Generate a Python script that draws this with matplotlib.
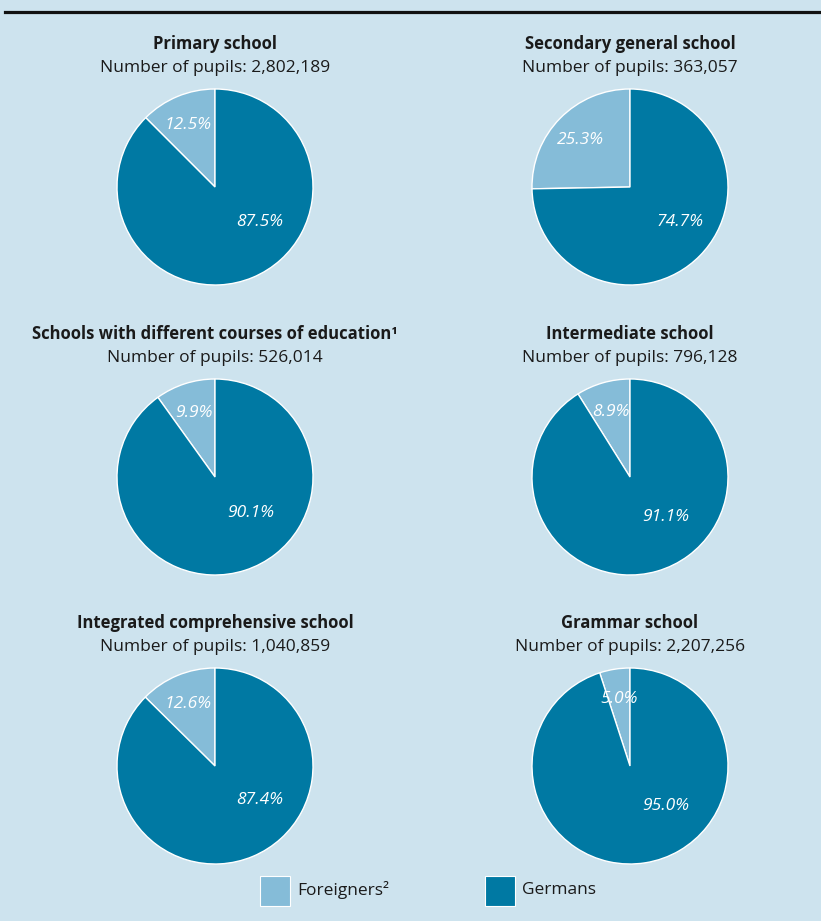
import numpy as np
import matplotlib.pyplot as plt
from matplotlib.lines import Line2D
from matplotlib.patches import Rectangle

W, H = 821, 921

titles = ["Primary school", "Secondary general school",
          "Schools with different courses of education\u00b9", "Intermediate school",
          "Integrated comprehensive school", "Grammar school"]
pupils = ["2,802,189", "363,057", "526,014", "796,128", "1,040,859", "2,207,256"]
foreigners = [12.5, 25.3, 9.9, 8.9, 12.6, 5.0]
germans = [87.5, 74.7, 90.1, 91.1, 87.4, 95.0]
legend_labels = ["Foreigners\u00b2", "Germans"]

BG = "#cde3ee"
LIGHT = "#85bcd8"
DARK = "#0079a3"

# pixel layout
centers_x = [215, 630]
centers_y = [187, 477, 766]
R = 98
german_lbl = [(0.46, -0.36), (0.51, -0.36), (0.36, -0.37),
              (0.36, -0.41), (0.46, -0.35), (0.36, -0.41)]

plt.rcParams['font.family'] = ['Open Sans', 'DejaVu Sans']

fig = plt.figure(figsize=(W / 100, H / 100), dpi=100)
fig.patch.set_facecolor(BG)

fig.add_artist(Line2D([5 / W, 1], [1 - 12 / H, 1 - 12 / H], color="#111111", lw=2.3))

for i in range(6):
    cx = centers_x[i % 2]
    cy = centers_y[i // 2]
    half = R + 3
    ax = fig.add_axes([(cx - half) / W, 1 - (cy + half) / H, 2 * half / W, 2 * half / H])
    ax.set_facecolor("none")
    ax.pie([foreigners[i], germans[i]], colors=[LIGHT, DARK], startangle=90,
           counterclock=True, radius=1,
           wedgeprops=dict(edgecolor="white", linewidth=1.0))
    ax.set_xlim(-half / R, half / R)
    ax.set_ylim(-half / R, half / R)
    ax.set_aspect("equal")
    ax.axis("off")
    # foreigner label at slice middle
    mid = np.deg2rad(90 + foreigners[i] / 100 * 180)
    ax.text(0.71 * np.cos(mid), 0.69 * np.sin(mid), f"{foreigners[i]:.1f}%",
            ha="center", va="center", color="white", style="italic", fontsize=12.5)
    gx, gy = german_lbl[i]
    ax.text(gx, gy, f"{germans[i]:.1f}%", ha="center", va="center",
            color="white", style="italic", fontsize=12.5)

    ty = cy - 143
    fig.text(cx / W, 1 - ty / H, titles[i], ha="center", va="center",
             fontsize=12, fontweight="bold", color="#1a1a1a")
    fig.text(cx / W, 1 - (ty + 24) / H, "Number of pupils: " + pupils[i],
             ha="center", va="center", fontsize=12.5, color="#1a1a1a")

# legend
for lx, col, lab in [(260, LIGHT, legend_labels[0]), (485, DARK, legend_labels[1])]:
    fig.add_artist(Rectangle((lx / W, 1 - 906 / H), 30 / W, 30 / H, transform=fig.transFigure,
                             facecolor=col, edgecolor="white", linewidth=0.8))
    fig.text((lx + 37) / W, 1 - 890 / H, lab, ha="left", va="center",
             fontsize=12.5, color="#1a1a1a")

fig.savefig("out.png", dpi=100, facecolor=BG)
